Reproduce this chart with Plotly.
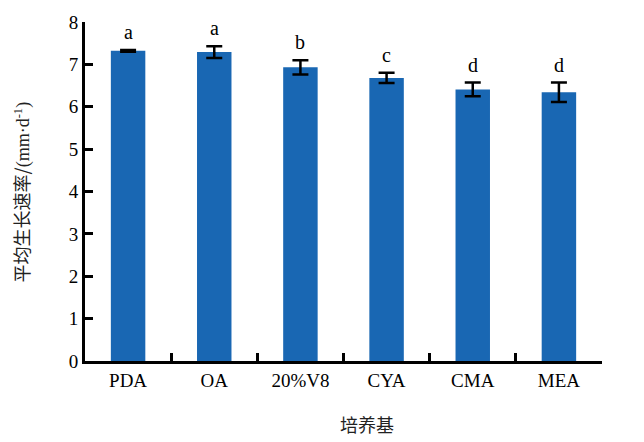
import plotly.graph_objects as go

# Mean growth rate of the colony on each culture medium
media = ["PDA", "OA", "20%V8", "CYA", "CMA", "MEA"]
rates = [7.32, 7.29, 6.93, 6.68, 6.41, 6.34]
errors = [0.02, 0.14, 0.17, 0.12, 0.16, 0.23]
letters = ["a", "a", "b", "c", "d", "d"]

y_ticks = [0, 1, 2, 3, 4, 5, 6, 7, 8]

serif = "Liberation Serif, Times New Roman, serif"
cjk = "Noto Sans CJK SC, sans-serif"

fig = go.Figure()
fig.add_trace(go.Bar(
    x=media,
    y=rates,
    marker=dict(color="#1967b3", line=dict(width=0)),
    error_y=dict(type="data", array=errors, visible=True,
                 color="black", thickness=2.5, width=8),
))

# Significance letters above each error bar
for m, r, e, t in zip(media, rates, errors, letters):
    fig.add_annotation(x=m, y=r + e, text=t, showarrow=False,
                       yanchor="bottom", yshift=5,
                       font=dict(family=serif, size=20, color="black"))

# Axis titles
fig.add_annotation(xref="paper", yref="paper", x=0.545, y=-0.185,
                   text="培养基", showarrow=False,
                   xanchor="center", yanchor="middle",
                   font=dict(family=cjk, size=18, color="#222222"))
fig.add_annotation(xref="paper", yref="paper", x=-0.124, y=0.5,
                   text="平均生长速率/<span style='font-family:Liberation Serif'>(mm·d<sup>-1</sup>)</span>",
                   textangle=-90, showarrow=False,
                   xanchor="center", yanchor="middle",
                   font=dict(family=cjk, size=18, color="#222222"))

fig.update_layout(
    width=644, height=442,
    margin=dict(l=85, r=42, t=14, b=81),
    paper_bgcolor="white", plot_bgcolor="white",
    bargap=0.6,
    showlegend=False,
    font=dict(family=serif, size=19, color="black"),
)
fig.update_xaxes(
    showline=True, linecolor="black", linewidth=3,
    ticks="inside", tickson="boundaries", ticklen=8, tickwidth=2.5,
    tickcolor="black", showgrid=False, zeroline=False,
    tickfont=dict(family=serif, size=19, color="black"),
)
fig.update_yaxes(
    range=[0, 8], tickvals=y_ticks,
    showline=True, linecolor="black", linewidth=3,
    ticks="inside", ticklen=8, tickwidth=2.5, tickcolor="black",
    showgrid=False, zeroline=False,
    tickfont=dict(family=serif, size=19, color="black"),
)

fig.write_html("out.html")
